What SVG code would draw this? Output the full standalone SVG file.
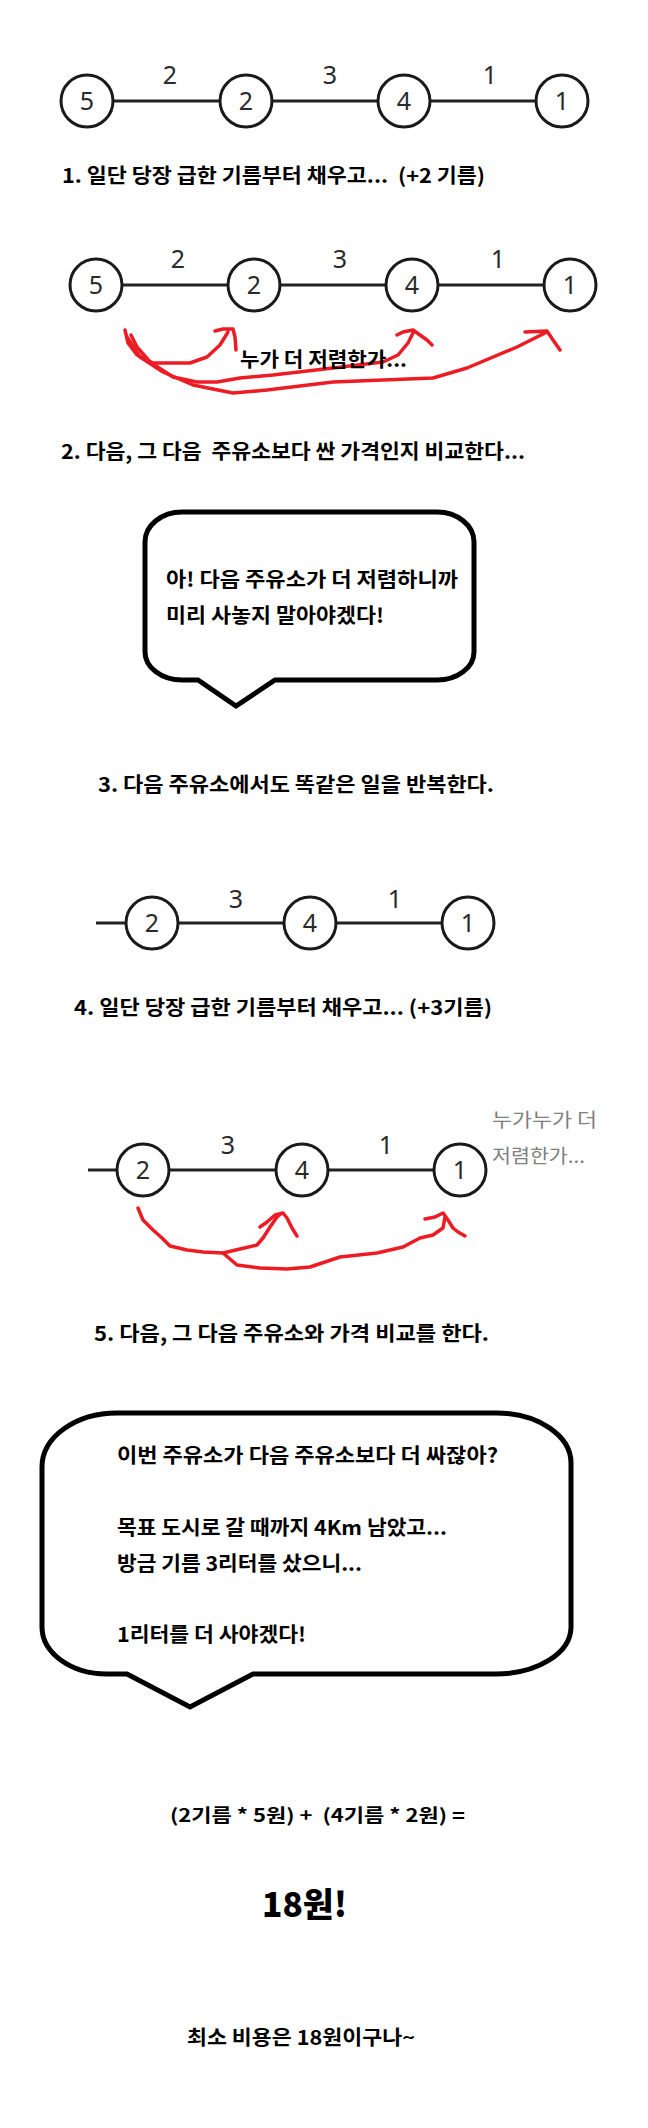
<svg xmlns="http://www.w3.org/2000/svg" width="648" height="2128" viewBox="0 0 648 2128">
<style>
.bg{fill:#fff}
.node circle{fill:#fff;stroke:#1a1a1a;stroke-width:3}
.node text{font-family:"Noto Sans","DejaVu Sans",sans-serif;font-size:25px;fill:#2a2a2a;text-anchor:middle}
.edge{stroke:#222;stroke-width:3}
.elabel{font-family:"Noto Sans","DejaVu Sans",sans-serif;font-size:25px;fill:#2a2a2a;text-anchor:middle}
.red{fill:none;stroke:#ed1c24;stroke-width:3.5;stroke-linecap:round;stroke-linejoin:round}
.t{font-family:"Noto Sans CJK KR","Noto Sans",sans-serif;font-weight:bold;font-size:20px;fill:#000;white-space:pre}
.g{font-family:"Noto Sans CJK KR","Noto Sans",sans-serif;font-size:19px;fill:#808080;white-space:pre}
.bubble{fill:#fff;stroke:#000;stroke-width:5;stroke-linejoin:miter}
</style>
<rect class="bg" x="0" y="0" width="648" height="2128"/>

<!-- Graph 1 -->
<g id="connectors-1">
<line class="edge" x1="113" y1="101" x2="220" y2="101"/>
<line class="edge" x1="272" y1="101" x2="378" y2="101"/>
<line class="edge" x1="430" y1="101" x2="536" y2="101"/>
<text class="elabel" x="170" y="84">2</text>
<text class="elabel" x="330" y="84">3</text>
<text class="elabel" x="490" y="84">1</text>
</g>
<g id="g1-n5" class="node"><circle cx="87" cy="101" r="26"/><text x="87" y="110">5</text></g>
<g id="g1-n2" class="node"><circle cx="246" cy="101" r="26"/><text x="246" y="110">2</text></g>
<g id="g1-n4" class="node"><circle cx="404" cy="101" r="26"/><text x="404" y="110">4</text></g>
<g id="g1-n1" class="node"><circle cx="562" cy="101" r="26"/><text x="562" y="110">1</text></g>

<text id="step1" class="t" x="62" y="183" textLength="423" lengthAdjust="spacingAndGlyphs">1. 일단 당장 급한 기름부터 채우고...  (+2 기름)</text>

<!-- Graph 2 -->
<g id="connectors-2">
<line class="edge" x1="122" y1="285" x2="228" y2="285"/>
<line class="edge" x1="280" y1="285" x2="386" y2="285"/>
<line class="edge" x1="438" y1="285" x2="544" y2="285"/>
<text class="elabel" x="178" y="268">2</text>
<text class="elabel" x="340" y="268">3</text>
<text class="elabel" x="498" y="268">1</text>
<path class="red" d="M125,330 L128,343 L137,355 L153,363 L190,363 L207,357 L220,345 L228,332 M215,331 L223,329 L233,329 L235,337 L236,350"/>
<path class="red" d="M131,335 L137,347 L150,362 L173,377 L197,382 L217,382 L240,378 L273,375 L333,368 L383,362 L398,355 L408,343 L413,333 M397,335 L403,332 L413,330 L420,335 L427,340 L432,345"/>
<path class="red" d="M127,337 L140,357 L163,372 L193,385 L233,393 L267,390 L333,382 L433,378 L467,368 L517,347 L547,332 M525,332 L547,331 L553,340 L560,350"/>
</g>
<g id="g2-n5" class="node"><circle cx="96" cy="285" r="26"/><text x="96" y="294">5</text></g>
<g id="g2-n2" class="node"><circle cx="254" cy="285" r="26"/><text x="254" y="294">2</text></g>
<g id="g2-n4" class="node"><circle cx="412" cy="285" r="26"/><text x="412" y="294">4</text></g>
<g id="g2-n1" class="node"><circle cx="570" cy="285" r="26"/><text x="570" y="294">1</text></g>
<text id="who-cheaper" class="t" x="240" y="367" textLength="167" lengthAdjust="spacingAndGlyphs">누가 더 저렴한가...</text>

<text id="step2" class="t" x="61" y="459" textLength="464" lengthAdjust="spacingAndGlyphs">2. 다음, 그 다음  주유소보다 싼 가격인지 비교한다...</text>

<!-- Bubble 1 -->
<g id="bubble1">
<path class="bubble" d="M182,512 H437 A37,30 0 0 1 474,542 V652 A37,28 0 0 1 437,680 H275 L236,706 L198,680 H182 A37,28 0 0 1 145,652 V542 A37,30 0 0 1 182,512 Z"/>
<text class="t" x="166" y="587" textLength="292" lengthAdjust="spacingAndGlyphs">아! 다음 주유소가 더 저렴하니까</text>
<text class="t" x="166" y="623" textLength="218" lengthAdjust="spacingAndGlyphs">미리 사놓지 말아야겠다!</text>
</g>

<text id="step3" class="t" x="98" y="792" textLength="396" lengthAdjust="spacingAndGlyphs">3. 다음 주유소에서도 똑같은 일을 반복한다.</text>

<!-- Graph 3 -->
<g id="connectors-3">
<line class="edge" x1="96" y1="923" x2="126" y2="923"/>
<line class="edge" x1="178" y1="923" x2="284" y2="923"/>
<line class="edge" x1="336" y1="923" x2="442" y2="923"/>
<text class="elabel" x="236" y="908">3</text>
<text class="elabel" x="395" y="908">1</text>
</g>
<g id="g3-n2" class="node"><circle cx="152" cy="923" r="26"/><text x="152" y="932">2</text></g>
<g id="g3-n4" class="node"><circle cx="310" cy="923" r="26"/><text x="310" y="932">4</text></g>
<g id="g3-n1" class="node"><circle cx="468" cy="923" r="26"/><text x="468" y="932">1</text></g>

<text id="step4" class="t" x="74" y="1015" textLength="418" lengthAdjust="spacingAndGlyphs">4. 일단 당장 급한 기름부터 채우고... (+3기름)</text>

<!-- Graph 4 -->
<g id="connectors-4">
<line class="edge" x1="88" y1="1170" x2="117" y2="1170"/>
<line class="edge" x1="169" y1="1170" x2="276" y2="1170"/>
<line class="edge" x1="328" y1="1170" x2="434" y2="1170"/>
<text class="elabel" x="228" y="1154">3</text>
<text class="elabel" x="386" y="1154">1</text>
<path class="red" d="M138,1208 L143,1220 L153,1230 L162,1238 L170,1246 L187,1250 L203,1252 L223,1253 L240,1249 L257,1245 L263,1238 L270,1227 L277,1217 L282,1213 M260,1227 L267,1222 L275,1215 L283,1213 L287,1218 L292,1228 L297,1236"/>
<path class="red" d="M223,1253 L237,1265 L260,1268 L287,1269 L310,1267 L340,1257 L377,1253 L403,1247 L420,1238 L433,1235 L443,1228 L445,1217 M425,1219 L435,1217 L443,1213 L448,1220 L453,1228 L458,1232 L465,1236"/>
</g>
<g id="g4-n2" class="node"><circle cx="143" cy="1170" r="26"/><text x="143" y="1179">2</text></g>
<g id="g4-n4" class="node"><circle cx="302" cy="1170" r="26"/><text x="302" y="1179">4</text></g>
<g id="g4-n1" class="node"><circle cx="460" cy="1170" r="26"/><text x="460" y="1179">1</text></g>
<g id="gray-note">
<text class="g" x="492" y="1127" textLength="105" lengthAdjust="spacingAndGlyphs">누가누가 더</text>
<text class="g" x="492" y="1163" textLength="93" lengthAdjust="spacingAndGlyphs">저렴한가...</text>
</g>

<text id="step5" class="t" x="94" y="1341" textLength="395" lengthAdjust="spacingAndGlyphs">5. 다음, 그 다음 주유소와 가격 비교를 한다.</text>

<!-- Bubble 2 -->
<g id="bubble2">
<path class="bubble" d="M117,1413 H496 A75,50 0 0 1 571,1463 V1627 A75,47 0 0 1 496,1674 H253 L190,1707 L127,1674 H107 A65,47 0 0 1 42,1627 V1467 A75,54 0 0 1 117,1413 Z"/>
<text class="t" x="117" y="1463" textLength="381" lengthAdjust="spacingAndGlyphs">이번 주유소가 다음 주유소보다 더 싸잖아?</text>
<text class="t" x="117" y="1535" textLength="330" lengthAdjust="spacingAndGlyphs">목표 도시로 갈 때까지 4Km 남았고...</text>
<text class="t" x="117" y="1571" textLength="245" lengthAdjust="spacingAndGlyphs">방금 기름 3리터를 샀으니...</text>
<text class="t" x="117" y="1642" textLength="189" lengthAdjust="spacingAndGlyphs">1리터를 더 사야겠다!</text>
</g>

<text id="formula" class="t" x="170" y="1822" style="font-size:18px" textLength="295" lengthAdjust="spacingAndGlyphs">(2기름 * 5원) +  (4기름 * 2원) =</text>
<text id="result" class="t" x="262" y="1917" style="font-size:34px;font-weight:900" textLength="85" lengthAdjust="spacingAndGlyphs">18원!</text>
<text id="conclusion" class="t" x="187" y="2045" textLength="228" lengthAdjust="spacingAndGlyphs">최소 비용은 18원이구나~</text>
</svg>
